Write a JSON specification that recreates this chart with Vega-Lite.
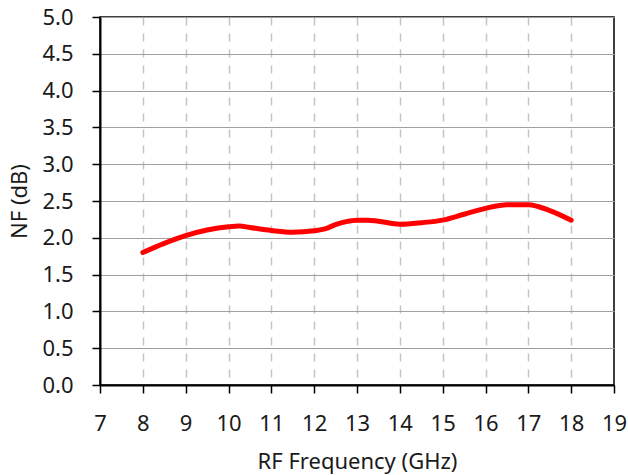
{
  "$schema": "https://vega.github.io/schema/vega-lite/v6.json",
  "width": 514,
  "height": 368,
  "autosize": {"type": "none"},
  "padding": {"left": 100, "top": 17, "right": 14, "bottom": 90},
  "background": "white",
  "config": {
    "view": {"stroke": "black", "strokeWidth": 1.5},
    "font": "Noto Sans"
  },
  "data": {
    "values": [
      {"f": 8.0, "nf": 1.80},
      {"f": 8.5, "nf": 1.925},
      {"f": 9.0, "nf": 2.03},
      {"f": 9.5, "nf": 2.105},
      {"f": 10.0, "nf": 2.15},
      {"f": 10.25, "nf": 2.16},
      {"f": 10.5, "nf": 2.14},
      {"f": 11.0, "nf": 2.10},
      {"f": 11.5, "nf": 2.075},
      {"f": 12.0, "nf": 2.095},
      {"f": 12.25, "nf": 2.12},
      {"f": 12.5, "nf": 2.18},
      {"f": 12.75, "nf": 2.22},
      {"f": 13.0, "nf": 2.24},
      {"f": 13.25, "nf": 2.24},
      {"f": 13.5, "nf": 2.225},
      {"f": 14.0, "nf": 2.185},
      {"f": 14.5, "nf": 2.205},
      {"f": 15.0, "nf": 2.24},
      {"f": 15.5, "nf": 2.32},
      {"f": 16.0, "nf": 2.40},
      {"f": 16.5, "nf": 2.45},
      {"f": 17.0, "nf": 2.45},
      {"f": 17.5, "nf": 2.37},
      {"f": 18.0, "nf": 2.24}
    ]
  },
  "mark": {"type": "line", "color": "#ff0000", "strokeWidth": 5, "interpolate": "monotone", "strokeCap": "round", "clip": true},
  "encoding": {
    "x": {
      "field": "f",
      "type": "quantitative",
      "scale": {"domain": [7, 19], "nice": false, "zero": false},
      "axis": {
        "title": "RF Frequency (GHz)",
        "values": [7, 8, 9, 10, 11, 12, 13, 14, 15, 16, 17, 18, 19],
        "format": "d",
        "grid": true,
        "gridColor": "#c4c4c4",
        "gridDash": [8, 8],
        "gridWidth": 1.5,
        "gridOpacity": {"condition": {"test": "datum.value == 7 || datum.value == 19", "value": 0}, "value": 1},
        "domainColor": "black",
        "domainWidth": 2,
        "tickColor": "black",
        "tickSize": 8,
        "tickWidth": 1.5,
        "labelFont": "Noto Sans",
        "labelFontSize": 22,
        "labelColor": "#1a1a1a",
        "labelBaseline": "alphabetic",
        "labelPadding": 37,
        "labelFlush": false,
        "titleFont": "Noto Sans",
        "titleFontSize": 22,
        "titleFontWeight": "normal",
        "titleColor": "#1a1a1a",
        "titleBaseline": "alphabetic",
        "titleY": 83,
        "titleX": 257,
        "titleAlign": "center"
      }
    },
    "y": {
      "field": "nf",
      "type": "quantitative",
      "scale": {"domain": [0, 5], "nice": false},
      "axis": {
        "title": "NF (dB)",
        "values": [0, 0.5, 1, 1.5, 2, 2.5, 3, 3.5, 4, 4.5, 5],
        "format": ".1f",
        "grid": true,
        "gridColor": "#a0a0a0",
        "gridWidth": 1.2,
        "domainColor": "black",
        "domainWidth": 2,
        "tickColor": "black",
        "tickSize": 8,
        "tickWidth": 1.5,
        "labelFont": "Noto Sans",
        "labelFontSize": 22,
        "labelColor": "#1a1a1a",
        "labelPadding": 19,
        "labelFlush": false,
        "titleFont": "Noto Sans",
        "titleFontSize": 22,
        "titleFontWeight": "normal",
        "titleColor": "#1a1a1a",
        "titleBaseline": "alphabetic",
        "titleAngle": -90,
        "titleX": -74,
        "titleY": 184,
        "titleAlign": "center"
      }
    }
  }
}
